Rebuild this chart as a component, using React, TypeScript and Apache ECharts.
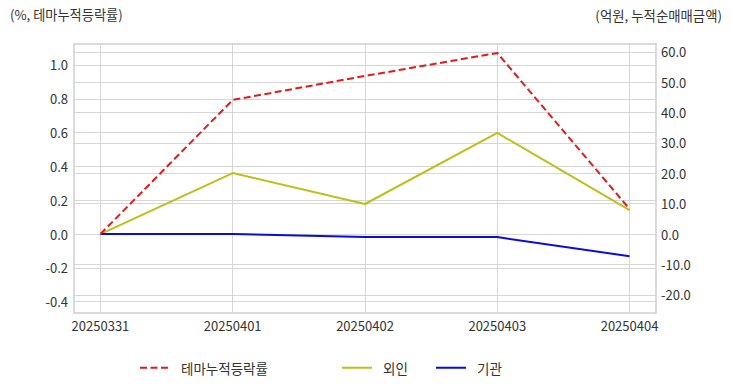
import React, { useEffect, useRef } from "react";
import * as echarts from "echarts";

const dates = ["20250331", "20250401", "20250402", "20250403", "20250404"];
const themeRate = [0.0, 0.793, 0.935, 1.071, 0.148];
const foreign = [0.0, 20.1, 9.9, 33.3, 7.9];
const institution = [0.0, 0.0, -1.0, -1.0, -7.3];
const leftTicks = [-0.4, -0.2, 0.0, 0.2, 0.4, 0.6, 0.8, 1.0];
const rightTicks = [-20, -10, 0, 10, 20, 30, 40, 50, 60];
const xTicks = [0, 1, 2, 3, 4];

const FONT = "'Noto Sans CJK KR', 'Noto Sans', sans-serif";

export default function App() {
  const ref = useRef<HTMLDivElement>(null);
  useEffect(() => {
    document.body.style.margin = "0";
    const chart = echarts.init(ref.current!, undefined, { renderer: "svg" });
    const lab = { color: "#333", fontSize: 13, fontFamily: FONT };
    const legendBase = {
      top: 361,
      padding: 0,
      itemWidth: 30,
      itemHeight: 14,
      itemStyle: { opacity: 0 },
      textStyle: { color: "#333", fontSize: 13.5, fontFamily: FONT, padding: [0, 0, 0, 6] },
    };
    chart.setOption({
      animation: false,
      backgroundColor: "#fff",
      textStyle: { fontFamily: FONT },
      grid: {
        left: 74, right: 76, top: 44, bottom: 79,
        show: true, borderColor: "#cfcfcf", borderWidth: 1.5,
      },
      legend: [
        { ...legendBase, left: 139, data: ["테마누적등락률"] },
        { ...legendBase, left: 341, data: ["외인"] },
        { ...legendBase, left: 435, data: ["기관"] },
      ],
      xAxis: {
        type: "value", min: -0.2, max: 4.2,
        axisLine: { show: false },
        axisTick: { show: false, customValues: xTicks },
        axisLabel: {
          ...lab, margin: 6, customValues: xTicks,
          formatter: (v: number) => dates[Math.round(v)] ?? "",
        },
        splitLine: { show: true, lineStyle: { color: "#d6d6d6", width: 1 } },
      },
      yAxis: [
        {
          type: "value", position: "left", min: -0.467, max: 1.124,
          axisLine: { show: false },
          axisTick: { show: false, customValues: leftTicks },
          axisLabel: { ...lab, margin: 6, customValues: leftTicks, formatter: (v: number) => v.toFixed(1) },
          splitLine: { show: true, lineStyle: { color: "#d6d6d6", width: 1 } },
        },
        {
          type: "value", position: "right", min: -26, max: 62.6,
          axisLine: { show: false },
          axisTick: { show: false, customValues: rightTicks },
          axisLabel: { ...lab, margin: 5, customValues: rightTicks, formatter: (v: number) => v.toFixed(1) },
          splitLine: { show: true, lineStyle: { color: "#d6d6d6", width: 1 } },
        },
      ],
      graphic: [
        { type: "text", left: 10, top: 8, style: { text: "(%, 테마누적등락률)", fill: "#333", fontSize: 13.2, fontFamily: FONT } },
        { type: "text", right: 10, top: 8, style: { text: "(억원, 누적순매매금액)", fill: "#333", fontSize: 13.4, fontFamily: FONT } },
      ],
      series: [
        {
          name: "테마누적등락률", type: "line", yAxisIndex: 0, symbol: "none",
          data: themeRate.map((v, i) => [i, v]),
          lineStyle: { color: "#e31a1c", width: 2, type: [7, 3.5] },
          itemStyle: { color: "#e31a1c" },
          z: 3,
        },
        {
          name: "외인", type: "line", yAxisIndex: 1, symbol: "none",
          data: foreign.map((v, i) => [i, v]),
          lineStyle: { color: "#bfbf1a", width: 2 },
          itemStyle: { color: "#bfbf1a" },
          z: 2,
        },
        {
          name: "기관", type: "line", yAxisIndex: 1, symbol: "none",
          data: institution.map((v, i) => [i, v]),
          lineStyle: { color: "#0a0ae0", width: 2 },
          itemStyle: { color: "#0a0ae0" },
          z: 2,
        },
      ],
    });
    return () => chart.dispose();
  }, []);
  return <div ref={ref} style={{ width: 732, height: 392 }} />;
}
